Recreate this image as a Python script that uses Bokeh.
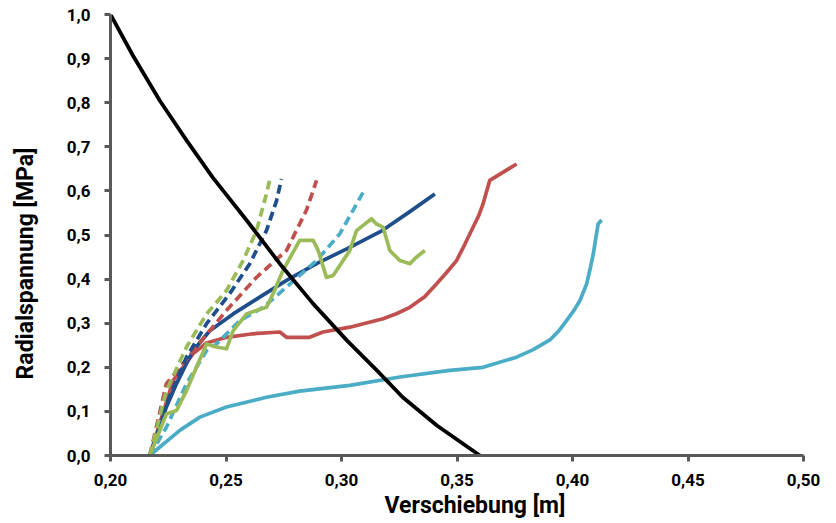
import math
from bokeh.plotting import figure
from bokeh.layouts import row
from bokeh.models import CustomJSTickFormatter, FixedTicker, Range1d, Title
from bokeh.core.properties import value
from bokeh.embed import file_html
from bokeh.resources import INLINE

# Black reference curve
black_x = [0.2000, 0.2097, 0.2213, 0.2330, 0.2443, 0.2590, 0.2733, 0.2876, 0.3023, 0.3153, 0.3265, 0.3413, 0.3599]
black_y = [1.000, 0.907, 0.805, 0.714, 0.630, 0.533, 0.435, 0.345, 0.261, 0.193, 0.132, 0.068, 0.000]

# Dashed series
green_d_x = [0.217, 0.2242, 0.2329, 0.2416, 0.2502, 0.2574, 0.2632, 0.2675, 0.2690]
green_d_y = [0.000, 0.147, 0.246, 0.321, 0.374, 0.442, 0.510, 0.593, 0.627]

blue_d_x = [0.217, 0.2242, 0.2329, 0.2416, 0.2516, 0.2603, 0.2675, 0.2719, 0.2740]
blue_d_y = [0.000, 0.117, 0.223, 0.299, 0.367, 0.435, 0.510, 0.578, 0.627]

red_d_x = [0.217, 0.2242, 0.2314, 0.2372, 0.2502, 0.2632, 0.2762, 0.2848, 0.2892]
red_d_y = [0.000, 0.163, 0.208, 0.246, 0.329, 0.404, 0.465, 0.556, 0.624]

teal_d_x = [0.217, 0.2242, 0.2329, 0.2416, 0.2459, 0.2560, 0.2661, 0.2762, 0.2892, 0.2993, 0.3094]
teal_d_y = [0.000, 0.064, 0.163, 0.238, 0.253, 0.306, 0.336, 0.382, 0.442, 0.503, 0.597]

# Solid series
blue_s_x = [0.217, 0.2242, 0.2286, 0.2330, 0.2358, 0.2430, 0.2531, 0.2646, 0.2762, 0.2892, 0.3036, 0.3170, 0.3296, 0.3404]
blue_s_y = [0.000, 0.110, 0.163, 0.210, 0.238, 0.283, 0.321, 0.359, 0.397, 0.435, 0.472, 0.508, 0.553, 0.593]

red_s_x = [0.217, 0.2271, 0.2358, 0.2416, 0.2502, 0.2617, 0.2733, 0.2762, 0.2862, 0.2920, 0.3036, 0.3180, 0.3240,
           0.3296, 0.3360, 0.3411, 0.3455, 0.3498, 0.3535, 0.3570, 0.3595, 0.3613, 0.3642, 0.3758]
red_s_y = [0.000, 0.170, 0.231, 0.255, 0.268, 0.276, 0.280, 0.268, 0.268, 0.280, 0.291, 0.310, 0.322,
           0.336, 0.360, 0.389, 0.415, 0.442, 0.480, 0.518, 0.545, 0.571, 0.624, 0.661]

teal_s_x = [0.217, 0.2300, 0.2387, 0.2502, 0.2675, 0.2819, 0.3036, 0.3253, 0.3469, 0.3613, 0.3758, 0.3830, 0.3902,
            0.3940, 0.3974, 0.4005, 0.4032, 0.4061, 0.4075, 0.4090, 0.4100, 0.4111, 0.4126]
teal_s_y = [0.000, 0.057, 0.087, 0.110, 0.132, 0.146, 0.159, 0.178, 0.193, 0.200, 0.223, 0.240, 0.262,
            0.282, 0.306, 0.328, 0.351, 0.389, 0.420, 0.457, 0.490, 0.525, 0.534]

green_s_x = [0.217, 0.2242, 0.2286, 0.2329, 0.2372, 0.2416, 0.2459, 0.2502, 0.2531, 0.2589, 0.2632, 0.2675, 0.2704,
             0.2747, 0.2819, 0.2877, 0.2899, 0.2935, 0.2964, 0.3036, 0.3065, 0.3130, 0.3151, 0.3180, 0.3209, 0.3253,
             0.3296, 0.3325, 0.3361]
green_s_y = [0.000, 0.094, 0.102, 0.147, 0.200, 0.253, 0.246, 0.242, 0.283, 0.321, 0.329, 0.336, 0.367,
             0.420, 0.488, 0.488, 0.465, 0.404, 0.408, 0.465, 0.510, 0.537, 0.525, 0.518, 0.465, 0.442,
             0.435, 0.450, 0.465]

x_ticks = [0.20, 0.25, 0.30, 0.35, 0.40, 0.45, 0.50]
y_ticks = [0.0, 0.1, 0.2, 0.3, 0.4, 0.5, 0.6, 0.7, 0.8, 0.9, 1.0]

x_title = "Verschiebung [m]"
y_title = "Radialspannung [MPa]"

BLUE = "#1f4e8c"
RED = "#c0504d"
TEAL = "#4bacc6"
GREEN = "#9bbb59"

LEFT_W = 45
FIG_H = 515

p = figure(output_backend="svg", toolbar_location=None,
           frame_width=693, frame_height=441,
           min_border_left=110 - LEFT_W, min_border_right=25, min_border_top=14, min_border_bottom=60,
           x_range=Range1d(0.20, 0.50), y_range=Range1d(0.0, 1.0))
p.outline_line_color = None
p.grid.grid_line_color = None
p.background_fill_color = "white"
p.border_fill_color = "white"

LW = 3.7
DASH = "9 5"
p.line(teal_s_x, teal_s_y, color=TEAL, line_width=LW, line_join="round")
p.line(red_s_x, red_s_y, color=RED, line_width=LW, line_join="round")
p.line(blue_s_x, blue_s_y, color=BLUE, line_width=LW, line_join="round")
p.line(teal_d_x, teal_d_y, color=TEAL, line_width=LW, line_dash=DASH)
p.line(red_d_x, red_d_y, color=RED, line_width=LW, line_dash=DASH)
p.line(blue_d_x, blue_d_y, color=BLUE, line_width=LW, line_dash=DASH)
p.line(green_d_x, green_d_y, color=GREEN, line_width=LW, line_dash=DASH)
p.line(green_s_x, green_s_y, color=GREEN, line_width=LW, line_join="round")
p.line(black_x, black_y, color="black", line_width=3.8, line_join="round")

for ax in (p.xaxis[0], p.yaxis[0]):
    ax.axis_line_color = "#595959"
    ax.axis_line_width = 3
    ax.major_tick_line_color = "#595959"
    ax.major_tick_line_width = 3
    ax.major_tick_out = 6
    ax.major_tick_in = 0
    ax.minor_tick_line_color = None
    ax.major_label_text_font = "Roboto"
    ax.major_label_text_font_style = "bold"
    ax.major_label_text_font_size = "17px"
    ax.major_label_text_color = "black"

p.xaxis.ticker = FixedTicker(ticks=x_ticks)
p.yaxis.ticker = FixedTicker(ticks=y_ticks)
p.xaxis.formatter = CustomJSTickFormatter(code="return tick.toFixed(2).replace('.', ',');")
p.yaxis.formatter = CustomJSTickFormatter(code="return tick.toFixed(1).replace('.', ',');")
p.xaxis.major_label_standoff = 12
p.yaxis.major_label_standoff = 14

p.add_layout(Title(text=x_title, align="left", offset=274, text_font="Roboto", text_font_style="bold",
                   text_font_size="23px", text_color="black", standoff=3), "below")

# narrow side panel that carries the vertical axis title
q = figure(output_backend="svg", toolbar_location=None,
           frame_width=LEFT_W, frame_height=FIG_H,
           min_border_left=0, min_border_right=0, min_border_top=0, min_border_bottom=0,
           x_range=Range1d(0, LEFT_W), y_range=Range1d(0, FIG_H))
q.axis.visible = False
q.grid.grid_line_color = None
q.outline_line_color = None
q.border_fill_color = "white"
q.text(x=[25], y=[FIG_H - 249], text=[y_title], angle=math.pi / 2,
       text_font=value("Roboto"), text_font_style="bold", text_font_size="23px",
       text_align="center", text_baseline="middle", text_color="black")

layout = row(q, p, spacing=0)
open("out.html", "w").write(file_html(layout, INLINE))
